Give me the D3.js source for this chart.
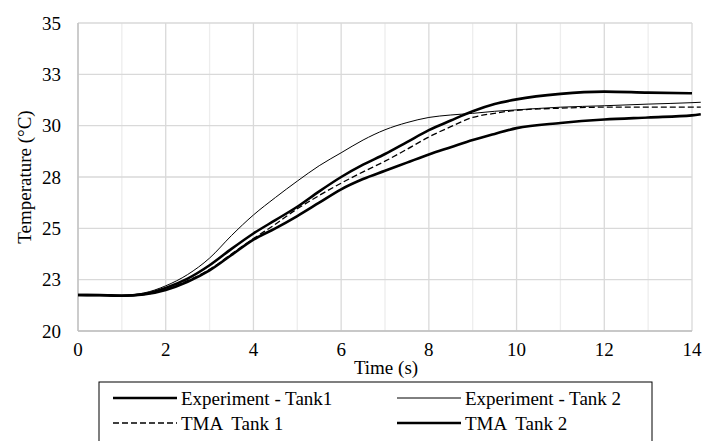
<!DOCTYPE html>
<html>
<head>
<meta charset="utf-8">
<script src="https://cdn.jsdelivr.net/npm/d3@7"></script>
<style>
  body { margin: 0; background: #fff; }
  svg text { font-family: "Liberation Serif", "Times New Roman", serif; fill: #000; }
</style>
</head>
<body>
<svg id="chart" width="702" height="441"></svg>
<script>
// time (s)
var time = [0, 0.5, 1, 1.5, 2, 2.5, 3, 3.5, 4, 4.5, 5, 5.5, 6, 6.5, 7, 7.5, 8, 8.5, 9, 9.5, 10, 11, 12, 13, 14, 14.2];

// temperature (°C)
var expTank1 = [21.75, 21.74, 21.72, 21.78, 22.0, 22.4, 22.95, 23.7, 24.45, 25.0, 25.6, 26.25, 26.9, 27.4, 27.8, 28.2, 28.6, 28.95, 29.3, 29.6, 29.88, 30.13, 30.3, 30.4, 30.5, 30.56];
var expTank2 = [21.76, 21.76, 21.74, 21.85, 22.2, 22.75, 23.55, 24.65, 25.65, 26.5, 27.3, 28.05, 28.68, 29.3, 29.8, 30.15, 30.4, 30.52, 30.6, 30.7, 30.77, 30.9, 30.97, 31.05, 31.12, 31.14];
var tmaTank1 = [21.75, 21.74, 21.72, 21.78, 22.02, 22.45, 23.0, 23.75, 24.5, 25.2, 25.95, 26.6, 27.2, 27.75, 28.27, 28.85, 29.45, 29.95, 30.4, 30.6, 30.75, 30.85, 30.9, 30.9, 30.9, 30.9];
var tmaTank2 = [21.75, 21.75, 21.72, 21.8, 22.1, 22.55, 23.2, 24.0, 24.75, 25.4, 26.05, 26.8, 27.5, 28.1, 28.62, 29.2, 29.78, 30.25, 30.7, 31.05, 31.28, 31.55, 31.66, 31.61, 31.58, null];

var xTicks = [0, 2, 4, 6, 8, 10, 12, 14];
var yTicks = [20, 22.5, 25, 27.5, 30, 32.5, 35];

var series = [
  {name: "Experiment - Tank1", values: expTank1, width: 2.6, dash: null},
  {name: "Experiment - Tank 2", values: expTank2, width: 1, dash: null},
  {name: "TMA  Tank 1", values: tmaTank1, width: 1.3, dash: "6,3"},
  {name: "TMA  Tank 2", values: tmaTank2, width: 2.6, dash: null}
];

var svg = d3.select("#chart");
var plotLeft = 78, plotRight = 692, plotTop = 23, plotBottom = 331;

var x = d3.scaleLinear().domain([0, 14]).range([plotLeft, plotRight]);
var y = d3.scaleLinear().domain([20, 35]).range([plotBottom, plotTop]);

// minor vertical grid (odd seconds)
svg.append("g")
  .selectAll("line")
  .data(d3.range(1, 14, 2))
  .enter().append("line")
  .attr("x1", function(d){ return x(d); })
  .attr("x2", function(d){ return x(d); })
  .attr("y1", plotTop).attr("y2", plotBottom)
  .style("stroke", "#ededed").style("stroke-width", 1.3);

// major vertical grid
svg.append("g")
  .selectAll("line")
  .data(xTicks)
  .enter().append("line")
  .attr("x1", function(d){ return x(d); })
  .attr("x2", function(d){ return x(d); })
  .attr("y1", plotTop).attr("y2", plotBottom)
  .style("stroke", "#d9d9d9").style("stroke-width", 1.3);

// horizontal grid
svg.append("g")
  .selectAll("line")
  .data(yTicks)
  .enter().append("line")
  .attr("x1", plotLeft).attr("x2", plotRight)
  .attr("y1", function(d){ return y(d); })
  .attr("y2", function(d){ return y(d); })
  .style("stroke", "#d9d9d9").style("stroke-width", 1.3);

// axis lines
svg.append("line").attr("x1", plotLeft).attr("x2", plotLeft).attr("y1", plotTop).attr("y2", plotBottom)
  .style("stroke", "#bfbfbf").style("stroke-width", 1.3);
svg.append("line").attr("x1", plotLeft).attr("x2", plotRight).attr("y1", plotBottom).attr("y2", plotBottom)
  .style("stroke", "#bfbfbf").style("stroke-width", 1.3);

// tick labels
svg.append("g")
  .selectAll("text")
  .data(yTicks)
  .enter().append("text")
  .attr("x", 61)
  .attr("y", function(d){ return y(d); })
  .attr("dy", "0.35em")
  .attr("text-anchor", "end")
  .style("font-size", "19px")
  .text(function(d){ return d3.format(".0f")(d); });

svg.append("g")
  .selectAll("text")
  .data(xTicks)
  .enter().append("text")
  .attr("x", function(d){ return x(d); })
  .attr("y", 356)
  .attr("text-anchor", "middle")
  .style("font-size", "19px")
  .text(function(d){ return d; });

// axis titles
svg.append("text")
  .attr("x", 386).attr("y", 374)
  .attr("text-anchor", "middle")
  .style("font-size", "19px")
  .text("Time (s)");

svg.append("text")
  .attr("transform", "translate(31,177) rotate(-90)")
  .attr("text-anchor", "middle")
  .style("font-size", "19px")
  .text("Temperature (°C)");

// lines
var line = d3.line()
  .defined(function(d){ return d[1] !== null; })
  .x(function(d){ return x(d[0]); })
  .y(function(d){ return y(d[1]); })
  .curve(d3.curveMonotoneX);

svg.append("g")
  .selectAll("path")
  .data(series)
  .enter().append("path")
  .attr("d", function(s){ return line(time.map(function(t, i){ return [t, s.values[i]]; })); })
  .style("fill", "none")
  .style("stroke", "#000")
  .style("stroke-width", function(s){ return s.width; })
  .style("stroke-dasharray", function(s){ return s.dash; });

// legend
var legend = svg.append("g");
legend.append("rect")
  .attr("x", 99).attr("y", 382)
  .attr("width", 553).attr("height", 80)
  .style("fill", "#fff").style("stroke", "#000").style("stroke-width", 1);

var items = legend.selectAll(".item")
  .data(series)
  .enter().append("g")
  .attr("class", "item")
  .attr("transform", function(s, i){
    return "translate(" + (i % 2 === 0 ? 113 : 397) + "," + (i < 2 ? 398 : 423) + ")";
  });

items.append("line")
  .attr("x1", 0).attr("x2", 64)
  .attr("y1", 0).attr("y2", 0)
  .style("stroke", "#000")
  .style("stroke-width", function(s){ return s.width; })
  .style("stroke-dasharray", function(s){ return s.dash; });

items.append("text")
  .attr("x", 68).attr("y", 0)
  .attr("dy", "0.35em")
  .style("font-size", "19px")
  .style("white-space", "pre")
  .text(function(s){ return s.name; });
</script>
</body>
</html>
